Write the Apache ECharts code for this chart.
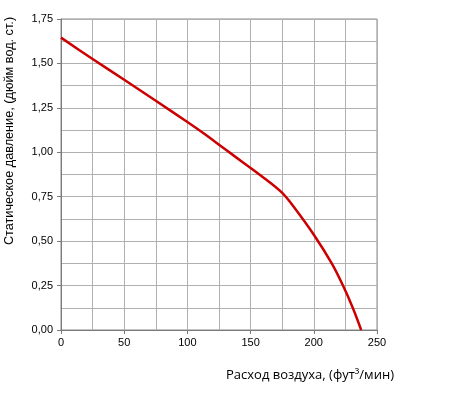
<!DOCTYPE html>
<html><head><meta charset="utf-8">
<script src="https://cdn.jsdelivr.net/npm/echarts@6/dist/echarts.min.js"></script>
<style>html,body{margin:0;padding:0;background:#fff}#c{width:450px;height:394px}</style>
</head><body><div id="c"></div>
<script>
const flow = [0, 25, 50, 75, 100, 112.5, 125, 137.5, 150, 162.5, 175, 183.8, 200, 214.2, 223.1, 230.8, 237.5];
const pressure = [1.645, 1.525, 1.408, 1.29, 1.17, 1.108, 1.043, 0.977, 0.912, 0.845, 0.771, 0.696, 0.536, 0.375, 0.25, 0.125, 0];
const xTitle = 'Расход воздуха, (фут³/мин)';
const yTitle = 'Статическое давление, (дюйм вод. ст.)';

const chart = echarts.init(document.getElementById('c'), null, {renderer: 'canvas'});
const fmt = v => v.toFixed(2).replace('.', ',');
chart.setOption({
  animation: false,
  grid: {left: 61, right: 73, top: 19, bottom: 64, show: true, borderColor: '#8a8a8a', borderWidth: 1},
  xAxis: {
    type: 'value', min: 0, max: 250, interval: 50,
    axisLine: {show: true, lineStyle: {color: '#7a7a7a', width: 1}},
    axisTick: {show: true, length: 4, lineStyle: {color: '#7a7a7a'}},
    axisLabel: {color: '#000', fontFamily: 'Liberation Sans, Arial', fontSize: 11, margin: 7},
    splitLine: {show: true, lineStyle: {color: '#b0b0b0', width: 1}},
    minorSplitLine: {show: true, lineStyle: {color: '#b0b0b0', width: 1}},
    minorTick: {show: false, splitNumber: 2}
  },
  yAxis: {
    type: 'value', min: 0, max: 1.75, interval: 0.25,
    axisLine: {show: true, lineStyle: {color: '#7a7a7a', width: 1}},
    axisTick: {show: true, length: 4, lineStyle: {color: '#7a7a7a'}},
    axisLabel: {color: '#000', fontFamily: 'Liberation Sans, Arial', fontSize: 11, margin: 8, formatter: fmt},
    splitLine: {show: true, lineStyle: {color: '#b0b0b0', width: 1}},
    minorSplitLine: {show: true, lineStyle: {color: '#b0b0b0', width: 1}},
    minorTick: {show: false, splitNumber: 2}
  },
  graphic: [
    {type: 'text', left: 226, top: 369, style: {text: xTitle, fill: '#000', font: '13px "Open Sans", sans-serif'}},
    {type: 'text', x: 3, y: 131, rotation: Math.PI / 2, style: {text: yTitle, fill: '#000', font: '12.7px "Liberation Sans", Arial', align: 'center', verticalAlign: 'top'}}
  ],
  series: [{
    type: 'line', smooth: 0.35, symbol: 'none',
    data: flow.map((f, i) => [f, pressure[i]]),
    lineStyle: {color: '#cc0000', width: 2.5}
  }]
});
</script></body></html>
